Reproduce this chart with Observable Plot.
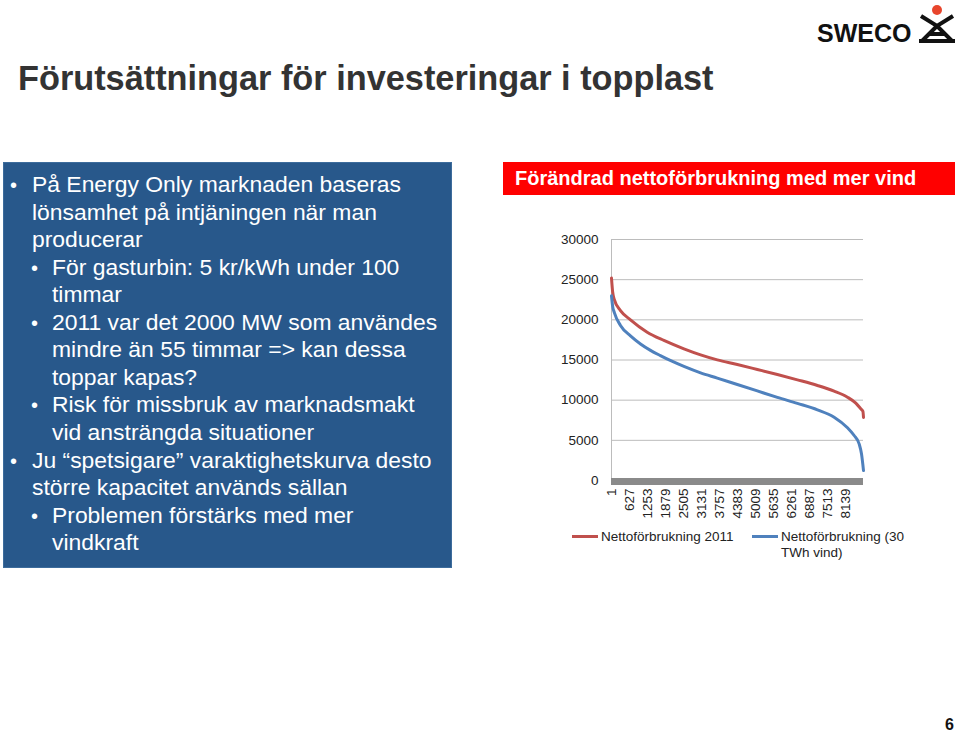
<!DOCTYPE html>
<html>
<head>
<meta charset="utf-8">
<script src="https://cdn.jsdelivr.net/npm/d3@7"></script>
<script src="https://cdn.jsdelivr.net/npm/@observablehq/plot@0.6"></script>
<style>
  html, body { margin: 0; padding: 0; background: #fff; }
  body { width: 960px; height: 734px; position: relative; overflow: hidden; font-family: "Liberation Sans", Arial, sans-serif; }
  .abs { position: absolute; white-space: nowrap; }
  #title { left: 18px; top: 59px; font-size: 34.3px; font-weight: bold; color: #333; }
  #box { left: 3px; top: 162px; width: 449px; height: 406px; background: #28588b; box-shadow: inset 0 0 0 1px #3d6c9c; }
  .ln { position: absolute; color: #fff; font-size: 22.9px; line-height: 27.5px; white-space: nowrap; }
  .bul { position: absolute; color: #fff; font-size: 20px; line-height: 27.5px; }
  #hdr { left: 503px; top: 162px; width: 452px; height: 33px; background: #ff0000; color: #fff; font-weight: bold; font-size: 20px; line-height: 33px; }
  #hdr span { position: absolute; left: 12px; }
  #chart { left: 540px; top: 220px; }
  .leg { position: absolute; font-size: 13.5px; color: #222; line-height: 16px; white-space: nowrap; }
  .legline { position: absolute; height: 3px; }
  #pg { left: 945px; top: 716px; font-size: 16px; font-weight: bold; color: #111; }
  #logo { left: 815px; top: 2px; }
</style>
</head>
<body>
<div id="title" class="abs">Förutsättningar för investeringar i topplast</div>

<div id="logo" class="abs">
  <svg width="145" height="46" viewBox="815 2 145 46">
    <text x="817" y="42" font-family="Liberation Sans, Arial, sans-serif" font-weight="bold" font-size="25" fill="#111">SWECO</text>
    <circle cx="937" cy="10" r="5" fill="#e8452c"></circle>
    <path d="M921 16 L937 26 L953 16 M937 26 L922 41 M937 26 L952 41 M919 41 L955 41 M930 34 L944 34" stroke="#111" stroke-width="4" fill="none" stroke-linejoin="miter"></path>
  </svg>
</div>

<div id="box" class="abs"></div>
<div id="boxtext"></div>

<div id="hdr" class="abs"><span>Förändrad nettoförbrukning med mer vind</span></div>

<div id="chart" class="abs"></div>

<div class="legline" style="left:572px; top:535px; width:26px; background:#c0504d;"></div>
<div class="leg" style="left:601px; top:529px;">Nettoförbrukning 2011</div>
<div class="legline" style="left:752px; top:535px; width:26px; background:#4f81bd;"></div>
<div class="leg" style="left:781px; top:529px;">Nettoförbrukning (30<br>TWh vind)</div>

<div id="pg" class="abs">6</div>

<script>
// ---- Data ----
const xTicks = [1, 627, 1253, 1879, 2505, 3131, 3757, 4383, 5009, 5635, 6261, 6887, 7513, 8139];
const yTicks = [0, 5000, 10000, 15000, 20000, 25000, 30000];

const redHours  = [1, 40, 100, 313, 661, 1241, 1822, 2518, 3098, 3678, 4374, 5070, 5767, 6463, 7159, 7739, 8203, 8493, 8667, 8740, 8760];
const redValues = [25200, 23500, 22500, 21150, 20000, 18460, 17430, 16390, 15640, 15020, 14440, 13820, 13190, 12530, 11830, 11120, 10370, 9630, 8920, 8600, 7850];

const blueHours  = [1, 40, 100, 313, 661, 1009, 1357, 1700, 2100, 2518, 3098, 3678, 4374, 5070, 5767, 6463, 7159, 7739, 8203, 8435, 8609, 8690, 8760];
const blueValues = [23000, 21700, 20900, 19300, 18000, 17000, 16200, 15550, 14850, 14200, 13400, 12750, 11950, 11150, 10350, 9600, 8800, 7880, 6560, 5600, 4560, 3320, 1240];

const redLabel = "Nettoförbrukning 2011";
const blueLabel = "Nettoförbrukning (30 TWh vind)";

// ---- Text panel ----
const lines = [
  {lvl: 0, bullet: true,  t: "På Energy Only marknaden baseras"},
  {lvl: 0, bullet: false, t: "lönsamhet på intjäningen när man"},
  {lvl: 0, bullet: false, t: "producerar"},
  {lvl: 1, bullet: true,  t: "För gasturbin: 5 kr/kWh under 100"},
  {lvl: 1, bullet: false, t: "timmar"},
  {lvl: 1, bullet: true,  t: "2011 var det 2000 MW som användes"},
  {lvl: 1, bullet: false, t: "mindre än 55 timmar => kan dessa"},
  {lvl: 1, bullet: false, t: "toppar kapas?"},
  {lvl: 1, bullet: true,  t: "Risk för missbruk av marknadsmakt"},
  {lvl: 1, bullet: false, t: "vid ansträngda situationer"},
  {lvl: 0, bullet: true,  t: "Ju “spetsigare” varaktighetskurva desto"},
  {lvl: 0, bullet: false, t: "större kapacitet används sällan"},
  {lvl: 1, bullet: true,  t: "Problemen förstärks med mer"},
  {lvl: 1, bullet: false, t: "vindkraft"}
];
const bt = document.getElementById("boxtext");
lines.forEach((l, i) => {
  const top = 171 + i * 27.55;
  const d = document.createElement("div");
  d.className = "ln";
  d.style.left = (l.lvl ? 52 : 32) + "px";
  d.style.top = top + "px";
  d.textContent = l.t;
  bt.appendChild(d);
  if (l.bullet) {
    const b = document.createElement("div");
    b.className = "bul";
    b.style.left = (l.lvl ? 31 : 10) + "px";
    b.style.top = (top + 1) + "px";
    b.textContent = "•";
    bt.appendChild(b);
  }
});

// ---- Chart ----
const red = redHours.map((h, i) => ({hour: h, value: redValues[i], series: redLabel}));
const blue = blueHours.map((h, i) => ({hour: h, value: blueValues[i], series: blueLabel}));

const chart = Plot.plot({
  width: 340,
  height: 310,
  marginLeft: 71,
  marginRight: 17,
  marginTop: 19,
  marginBottom: 50,
  x: {type: "linear", domain: [1, 8760], label: null},
  y: {domain: [0, 30000], label: null},
  style: {fontFamily: "'Liberation Sans', Arial, sans-serif", fontSize: "13.5px", color: "#222", background: "transparent", overflow: "visible"},
  marks: [
    Plot.ruleY(yTicks, {stroke: "#bcbcbc", strokeWidth: 1, strokeOpacity: 1}),
    Plot.frame({anchor: "left", stroke: "#bcbcbc", strokeOpacity: 1}),
    Plot.line(red, {x: "hour", y: "value", stroke: "#c0504d", strokeWidth: 3, curve: "monotone-x"}),
    Plot.line(blue, {x: "hour", y: "value", stroke: "#4f81bd", strokeWidth: 3, curve: "monotone-x"}),
    Plot.ruleY([0], {stroke: "#8a8a8a", strokeWidth: 7, dy: 1}),
    Plot.axisY({ticks: yTicks, tickSize: 0, tickPadding: 13, tickFormat: d => String(d), label: null}),
    Plot.axisX({ticks: xTicks, tickSize: 0, tickPadding: 8, tickRotate: -90, tickFormat: d => String(d), label: null})
  ]
});
document.getElementById("chart").appendChild(chart);
</script>
</body>
</html>
